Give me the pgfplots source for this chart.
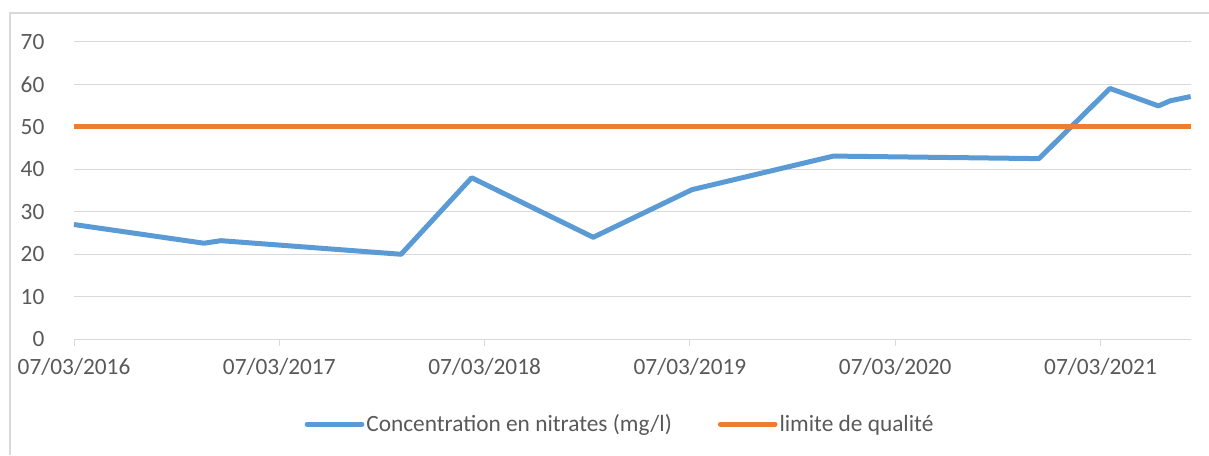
\documentclass[border=0pt]{standalone}
\usepackage{pgfplots}
\pgfplotsset{compat=1.18}
\usepackage{fontspec}
\setmainfont{Carlito}
\definecolor{cblue}{HTML}{5B9BD5}
\definecolor{corange}{HTML}{ED7D31}
\definecolor{cgrid}{HTML}{D9D9D9}
\definecolor{ctext}{HTML}{595959}
\begin{document}
\begin{tikzpicture}
\useasboundingbox (0,0) rectangle (906.75pt,341.25pt);
\draw[cgrid, line width=1.1pt] (7.5pt,0) -- (7.5pt,331.5pt) -- (906.75pt,331.5pt);
\begin{axis}[
  at={(55.5pt,86.775pt)}, anchor=south west,
  scale only axis, width=837.5pt, height=223.2pt,
  xmin=0, xmax=5.439, ymin=0, ymax=70,
  xtick={0,1,2,3,4,5},
  xticklabels={07/03/2016,07/03/2017,07/03/2018,07/03/2019,07/03/2020,07/03/2021},
  ytick={0,10,...,70},
  /pgf/number format/assume math mode=true,
  axis line style={draw=none},
  ymajorgrids, grid style={cgrid, line width=0.75pt},
  xtick pos=bottom, ytick pos=left,
  tick align=outside,
  major tick length=5pt,
  ytick style={draw=none},
  xtick style={cgrid, line width=0.75pt},
  clip=false,
  ticklabel style={font=\fontsize{17.5pt}{21pt}\selectfont, text=ctext},
  xticklabel style={anchor=north, inner sep=0pt, yshift=-9pt},
  yticklabel style={anchor=east, inner sep=0pt, xshift=-17pt},
  legend style={at={(0.489,-0.285)}, anchor=center, draw=none, fill=none,
    font=\fontsize{17.5pt}{21pt}\selectfont, text=ctext,
    /tikz/every even column/.append style={column sep=33pt},
    nodes={inner sep=1.5pt}},
  legend columns=2,
  legend image code/.code={\draw[#1, line width=3.75pt, line cap=round] (0pt,0pt) -- (41pt,0pt);},
]
\addplot[cblue, line width=3.75pt, line join=round] coordinates {
(0,27.0) (0.633,22.6) (0.716,23.2) (1.593,20.0) (1.937,38.0) (2.529,24.0)
(3.010,35.2) (3.699,43.1) (4.700,42.5) (5.046,59.0) (5.282,54.9) (5.339,56.1) (5.439,57.1)
};
\addlegendentry{Concentration en nitrates (mg/l)}
\addplot[corange, line width=3.75pt] coordinates {(0,50) (5.439,50)};
\addlegendentry{limite de qualité}
\end{axis}
\end{tikzpicture}
\end{document}
